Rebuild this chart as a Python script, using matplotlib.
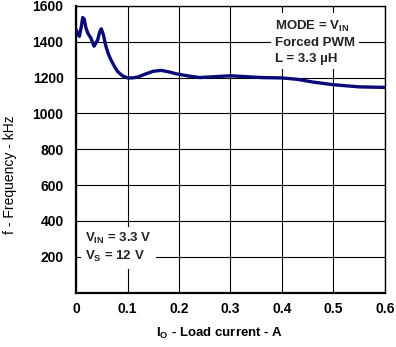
import matplotlib
matplotlib.use("Agg")
import matplotlib.pyplot as plt

plt.rcParams['font.family'] = ['Liberation Sans', 'DejaVu Sans']
plt.rcParams['mathtext.fontset'] = 'custom'
plt.rcParams['mathtext.rm'] = 'Liberation Sans:bold'
plt.rcParams['mathtext.bf'] = 'Liberation Sans:bold'

# load current (A) vs switching frequency (kHz)
load_a = [0.0, 0.003, 0.0065, 0.010, 0.013, 0.016, 0.019, 0.023, 0.029, 0.035,
          0.042, 0.046, 0.049, 0.053, 0.058, 0.063, 0.068, 0.075, 0.081, 0.090,
          0.100, 0.110, 0.120, 0.135, 0.150, 0.165, 0.180, 0.196, 0.220, 0.240,
          0.270, 0.300, 0.330, 0.360, 0.400, 0.430, 0.460, 0.500, 0.550, 0.600]
freq_khz = [1470, 1445, 1430, 1480, 1535, 1525, 1480, 1447, 1420, 1375,
            1410, 1455, 1472, 1440, 1375, 1330, 1298, 1260, 1233, 1210,
            1198, 1198, 1203, 1220, 1235, 1240, 1232, 1220, 1208, 1200,
            1205, 1210, 1205, 1200, 1198, 1190, 1175, 1160, 1148, 1145]

x_ticks = [0, 0.1, 0.2, 0.3, 0.4, 0.5, 0.6]
x_labels = ['0', '0.1', '0.2', '0.3', '0.4', '0.5', '0.6']
y_ticks = [200, 400, 600, 800, 1000, 1200, 1400, 1600]

fig = plt.figure(figsize=(3.96, 3.47), dpi=100)
ax = fig.add_axes([0.192, 0.157, 0.78, 0.826])

ax.plot(load_a, freq_khz, color='#0a0a78', lw=2.4, solid_capstyle='round', zorder=3)

ax.set_xlim(0, 0.6)
ax.set_ylim(0, 1600)
ax.set_xticks(x_ticks)
ax.set_xticklabels(x_labels)
ax.set_yticks(y_ticks)
ax.tick_params(length=0, labelsize=10)
ax.tick_params(axis='y', pad=9)
ax.tick_params(axis='x', pad=7)
for lab in ax.get_xticklabels() + ax.get_yticklabels():
    lab.set_fontweight('bold')
ax.grid(True, color='black', lw=0.8)
ax.set_axisbelow(True)
for sp in ax.spines.values():
    sp.set_linewidth(1.0)
ax.spines['left'].set_linewidth(1.6)
ax.spines['bottom'].set_linewidth(1.6)

ax.set_xlabel(r'I$_\mathrm{O}$ - Load current - A', fontsize=9.5,
              fontweight='bold')
ax.xaxis.set_label_coords(0.466, -0.115)
ax.set_ylabel('f - Frequency - kHz', fontsize=10)
ax.yaxis.set_label_coords(-0.19, 0.41)

ax.text(0.386, 1530, 'MODE = V$_\\mathrm{IN}$\nForced PWM\nL = 3.3 \u00b5H',
        fontsize=9.5, fontweight='bold', va='top', ha='left', linespacing=1.4,
        color='#222222', zorder=4,
        bbox=dict(facecolor='white', edgecolor='none', pad=3))
ax.text(0.017, 250, 'V$_\\mathrm{IN}$ = 3.3 V\nV$_\\mathrm{S}$ = 12 V',
        fontsize=9.5, fontweight='bold', va='center', ha='left', linespacing=1.3,
        color='#222222', zorder=4,
        bbox=dict(facecolor='white', edgecolor='none', pad=3))

fig.savefig('out.png', dpi=100)
